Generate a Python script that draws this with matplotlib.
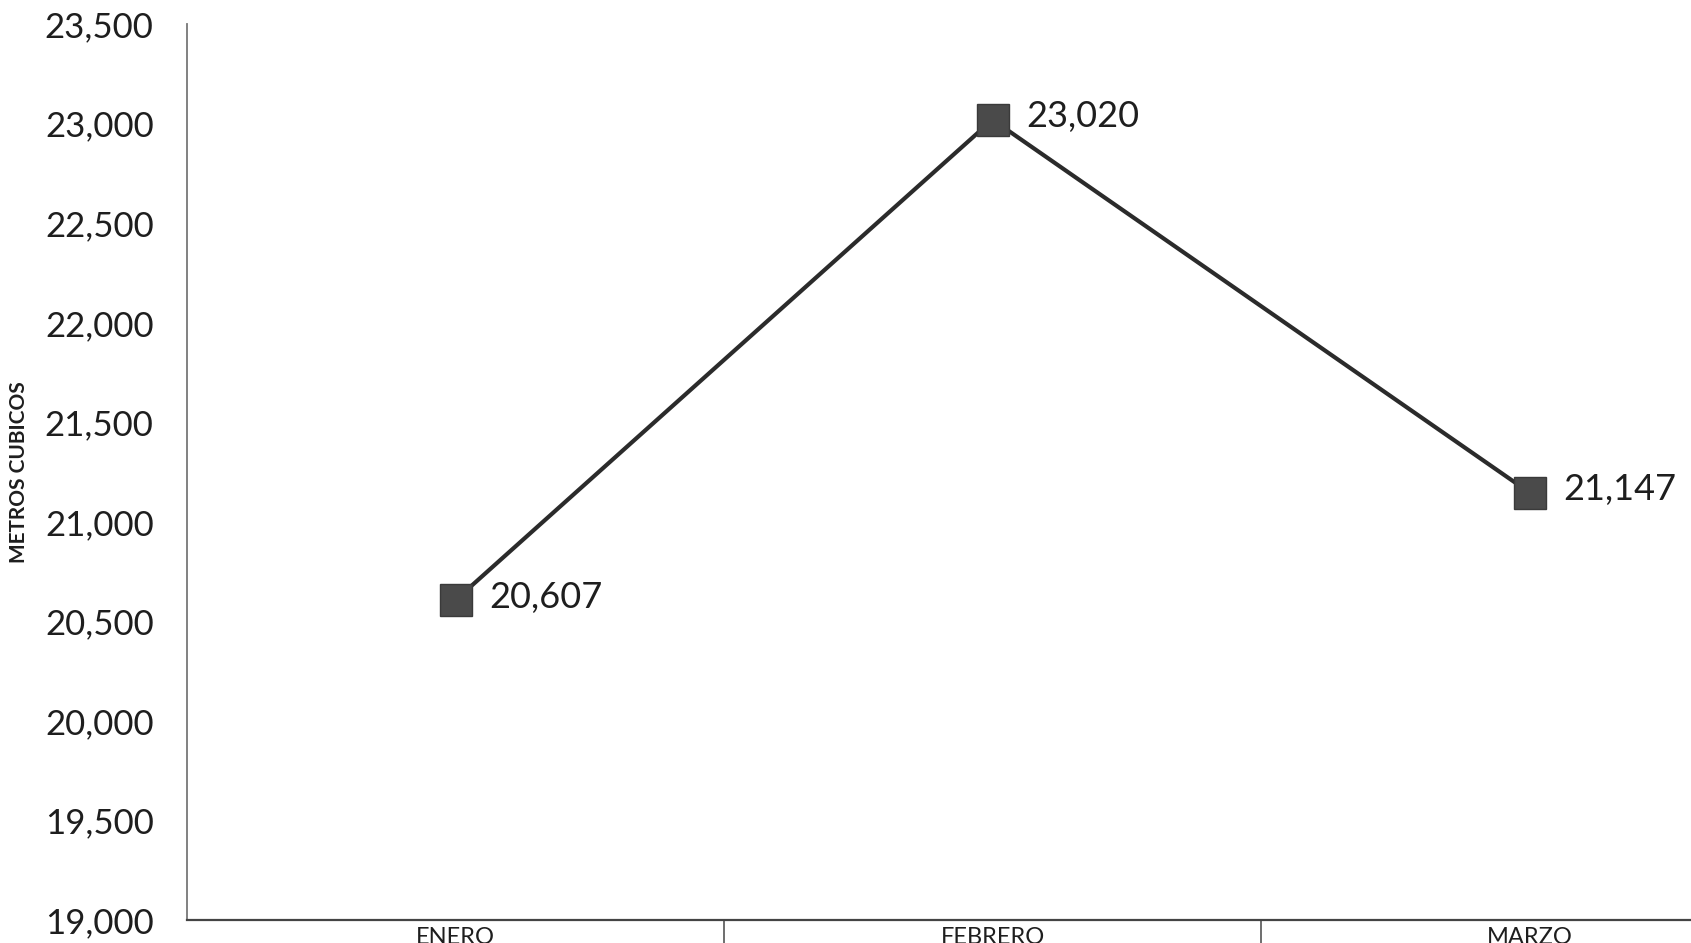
import matplotlib
matplotlib.use("Agg")
import matplotlib.pyplot as plt
from matplotlib.ticker import FuncFormatter, FixedLocator

plt.rcParams['font.family'] = ['Lato', 'DejaVu Sans']

meses = ["ENERO", "FEBRERO", "MARZO"]
metros = [20607, 23020, 21147]
y_ticks = [19000, 19500, 20000, 20500, 21000, 21500, 22000, 22500, 23000, 23500]

fig = plt.figure(figsize=(16.91, 9.43), dpi=100)
ax = fig.add_axes([0.1106, 0.0244, 0.9527, 0.950])

x = list(range(len(meses)))
ax.plot(x, metros, color='#2b2b2b', linewidth=3, marker='s', markersize=23,
        markerfacecolor='#4a4a4a', markeredgecolor='#3a3a3a', zorder=3)

for xi, v in zip(x, metros):
    ax.annotate(f"{v:,}", (xi, v), xytext=(24, 2), textcoords='offset points',
                ha='left', va='center', fontsize=26, color='#1e1e1e')

ax.set_xlim(-0.5, len(meses) - 0.5)
ax.set_ylim(y_ticks[0], y_ticks[-1])
ax.set_yticks(y_ticks)
ax.yaxis.set_major_formatter(FuncFormatter(lambda v, p: f"{int(v):,}"))
ax.tick_params(axis='y', length=0, pad=24, labelsize=25, labelcolor='#1e1e1e')

ax.set_xticks(x)
ax.set_xticklabels(meses)
ax.tick_params(axis='x', which='major', length=0, pad=5, labelsize=17, labelcolor='#1e1e1e')
ax.xaxis.set_minor_locator(FixedLocator([0.5, 1.5]))
ax.tick_params(axis='x', which='minor', length=30, width=1.2, color='#555555', direction='out')

ax.set_ylabel("METROS CUBICOS", fontsize=15, fontweight='bold', color='#1e1e1e')
ax.yaxis.set_label_coords(-0.098, 0.5)

for s in ['top', 'right']:
    ax.spines[s].set_visible(False)
ax.spines['left'].set_color('#777777')
ax.spines['left'].set_linewidth(1.3)
ax.spines['bottom'].set_color('#444444')
ax.spines['bottom'].set_linewidth(1.6)

fig.savefig("out.png", dpi=100)
